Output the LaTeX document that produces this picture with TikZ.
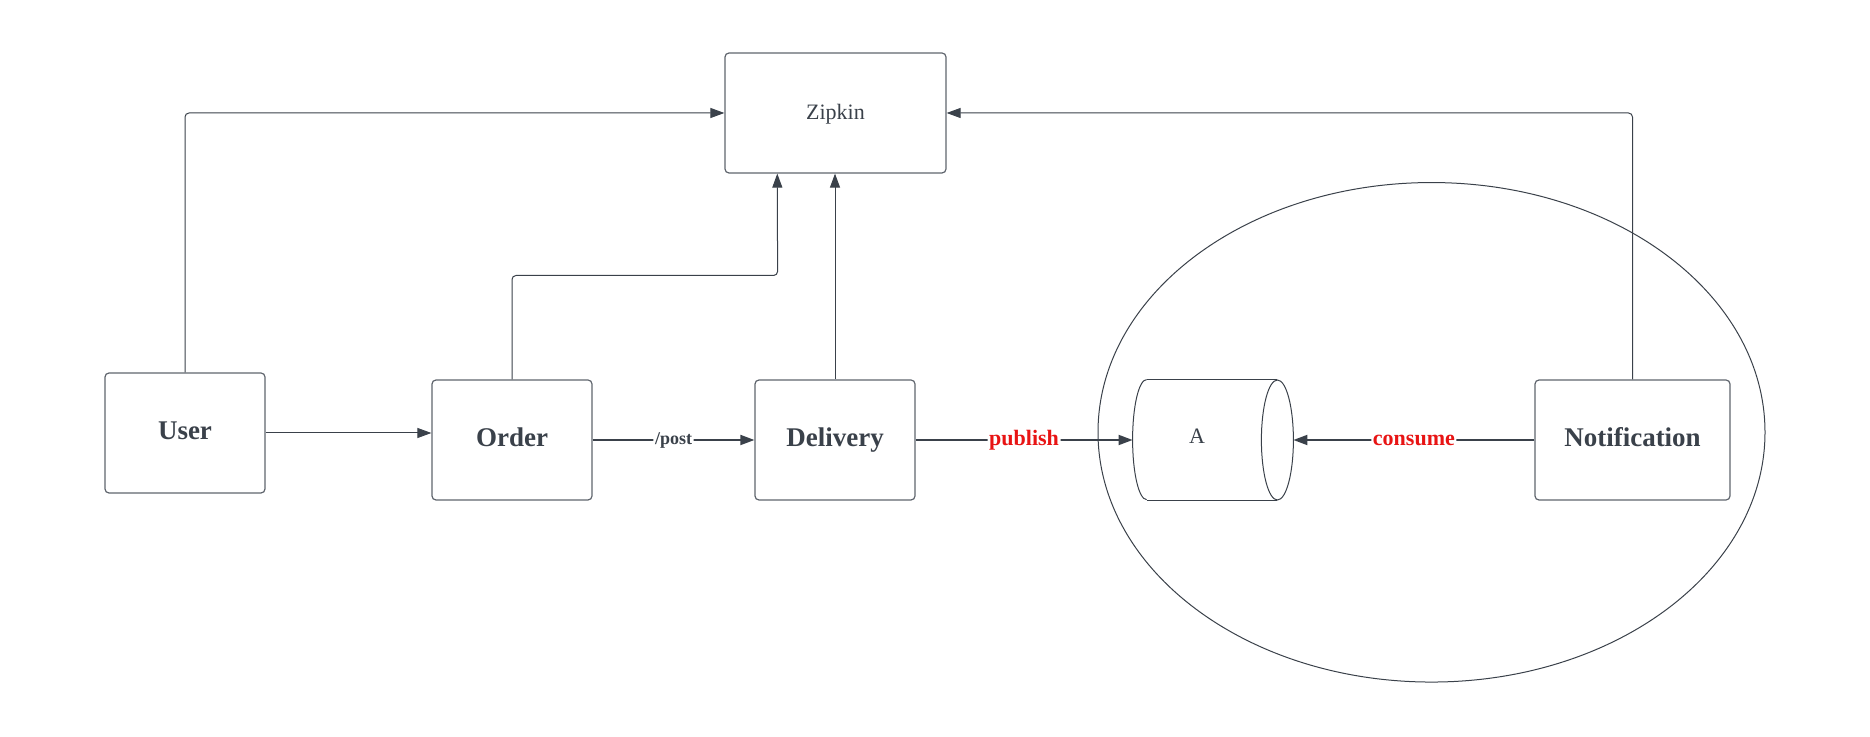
\documentclass[tikz,border=0pt]{standalone}
\usepackage{fontspec}
\setmainfont{Liberation Serif}
\usetikzlibrary{shapes.geometric,arrows.meta,calc}
\definecolor{ink}{HTML}{3A414A}
\definecolor{edgegray}{HTML}{5F656D}
\definecolor{lblred}{HTML}{E81414}
\begin{document}
\begin{tikzpicture}[x=0.5pt,y=-0.5pt,
  svc/.style={draw=edgegray, line width=0.6pt, rounded corners=2pt,
    minimum width=80pt, minimum height=60pt, inner sep=0pt, text=ink,
    text height=9.5pt, text depth=2.8pt,
    font=\fontsize{13.5}{15}\selectfont\bfseries},
  conn/.style={draw=ink, line width=0.5pt, rounded corners=2pt,
    -{Triangle[length=7pt,width=5pt]}},
  connthick/.style={conn, line width=0.9pt},
  lbl/.style={fill=white, inner sep=0.8pt, text=ink,
    font=\fontsize{9}{10}\selectfont\bfseries},
  redlbl/.style={lbl, text=lblred, font=\fontsize{11}{12}\selectfont\bfseries},
  thinline/.style={draw=ink, line width=0.5pt}
]
\useasboundingbox (0,0) rectangle (1870,737);

% group ellipse
\node[thinline, ellipse, minimum width=333.5pt, minimum height=249.75pt, inner sep=0pt] (grp) at (1431.5,432.3) {};

% services
\node[svc, font=\fontsize{11}{13}\selectfont, text height=8.6pt, text depth=2.4pt, minimum width=110.5pt] (zipkin) at (835.5,113) {Zipkin};
\node[svc] (user) at (185,433) {User};
\node[svc] (order) at (512,440) {Order};
\node[svc] (delivery) at (835,440) {Delivery};
\node[svc, minimum width=97.5pt] (notif) at (1632.5,440) {Notification};

% queue (cylinder)
\node[minimum width=80pt, minimum height=60pt, inner sep=0pt] (queue) at (1213,440) {};
\draw[thinline] ([xshift=7pt]queue.north west) -- ([xshift=-8pt]queue.north east);
\draw[thinline] ([xshift=7pt]queue.south west) -- ([xshift=-8pt]queue.south east);
\draw[thinline] ([xshift=-8pt]queue.east) ellipse [x radius=8pt, y radius=30pt];
\draw[thinline] ([xshift=7pt]queue.north west) arc [start angle=90, end angle=270, x radius=7pt, y radius=30pt];
\node[text=ink, font=\fontsize{11}{13}\selectfont, inner sep=0pt] (qtext) at ([xshift=-8pt,yshift=1.7pt]queue.center) {A};

% connectors to zipkin
\coordinate (zbot) at ($(zipkin.south west)!0.238!(zipkin.south east)$);
\coordinate (obend) at (777.6,275.5);
\draw[conn] (user.north) |- (zipkin.west);
\draw[conn] (notif.north) |- (zipkin.east);
\draw[conn] (order.north) |- (obend) -- (zbot);
\draw[conn] (delivery.north) -- (delivery.north |- zipkin.south);

% main flow
\draw[conn] (user.east) -- (user.east -| order.west);
\draw[connthick] (order) -- node[lbl] {/post} (delivery);
\draw[connthick] (delivery) -- node[redlbl] {publish} (queue.west);
\draw[connthick] (notif) -- node[redlbl] {consume} (queue.east);
\end{tikzpicture}
\end{document}
